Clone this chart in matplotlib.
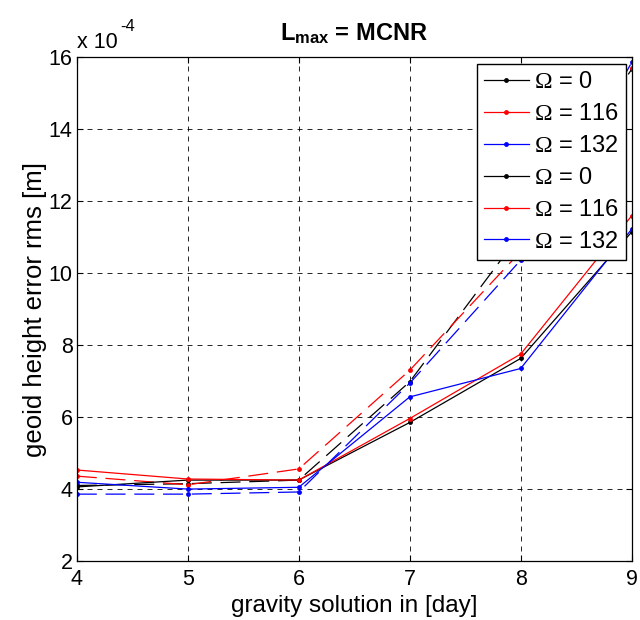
from matplotlib import pyplot as plt
from matplotlib.lines import Line2D

plt.rcParams['font.family'] = ['Liberation Sans', 'DejaVu Sans']
plt.rcParams['mathtext.fontset'] = 'custom'
plt.rcParams['mathtext.rm'] = 'Liberation Serif'
plt.rcParams['mathtext.bf'] = 'Liberation Sans:bold'

# gravity solution length in days
days = [4, 5, 6, 7, 8, 9]

# geoid height error rms, in units of 1e-4 m
black_dash = [4.10, 4.15, 4.25, 6.98, 11.10, 15.66]
red_dash = [4.36, 4.12, 4.56, 7.30, 10.60, 15.70]
blue_dash = [3.86, 3.86, 3.92, 6.94, 10.36, 15.85]

black_solid = [4.06, 4.25, 4.25, 5.85, 7.63, 11.14]
red_solid = [4.53, 4.28, 4.25, 5.96, 7.75, 11.59]
blue_solid = [4.19, 4.00, 4.05, 6.56, 7.35, 11.22]

labels = [r'$\Omega$ = 0', r'$\Omega$ = 116', r'$\Omega$ = 132']
colors = ['black', 'red', 'blue']

fig = plt.figure(figsize=(6.4, 6.2), dpi=100)
ax = fig.add_axes([0.120, 0.095, 0.867, 0.813])

for ys, c in zip([black_dash, red_dash, blue_dash], colors):
    ax.plot(days, ys, color=c, lw=0.9, dashes=(16, 7), marker='o', ms=3.5, mew=0)
for ys, c in zip([black_solid, red_solid, blue_solid], colors):
    ax.plot(days, ys, color=c, lw=0.9, marker='o', ms=3.5, mew=0)

ax.set_xlim(4, 9)
ax.set_ylim(2, 16)
ax.set_xticks([4, 5, 6, 7, 8, 9])
ax.set_yticks([2, 4, 6, 8, 10, 12, 14, 16])
ax.tick_params(direction='in', top=True, right=True, labelsize=15.5, length=4)
ax.tick_params(axis='x', pad=6)
ax.tick_params(axis='y', pad=3)
ax.grid(True, color='black', linestyle=(0, (6, 6)), linewidth=0.6)
for s in ax.spines.values():
    s.set_linewidth(0.9)

ax.set_xlabel('gravity solution in [day]', fontsize=17.5, labelpad=3)
ax.set_ylabel('geoid height error rms [m]', fontsize=18.5, labelpad=1)
ax.set_title(r'$\mathbf{L_{max}}$ = MCNR', fontsize=17, fontweight='bold', pad=12)

# axis multiplier written like the original
ax.text(0.0, 1.008, 'x 10', transform=ax.transAxes, fontsize=15.5, ha='left', va='bottom')
ax.text(0.078, 1.045, '-4', transform=ax.transAxes, fontsize=12, ha='left', va='bottom')

handles = [Line2D([], [], color=c, lw=0.9, marker='o', ms=3.5, mew=0) for c in colors * 2]
ax.legend(handles, labels * 2, loc='upper right', bbox_to_anchor=(0.989, 0.986),
          fontsize=17, frameon=True, fancybox=False, framealpha=1, edgecolor='black',
          borderaxespad=0, labelspacing=0.42, handlelength=1.9, handletextpad=0.2,
          borderpad=0.3)

fig.savefig('out.png', dpi=100)
